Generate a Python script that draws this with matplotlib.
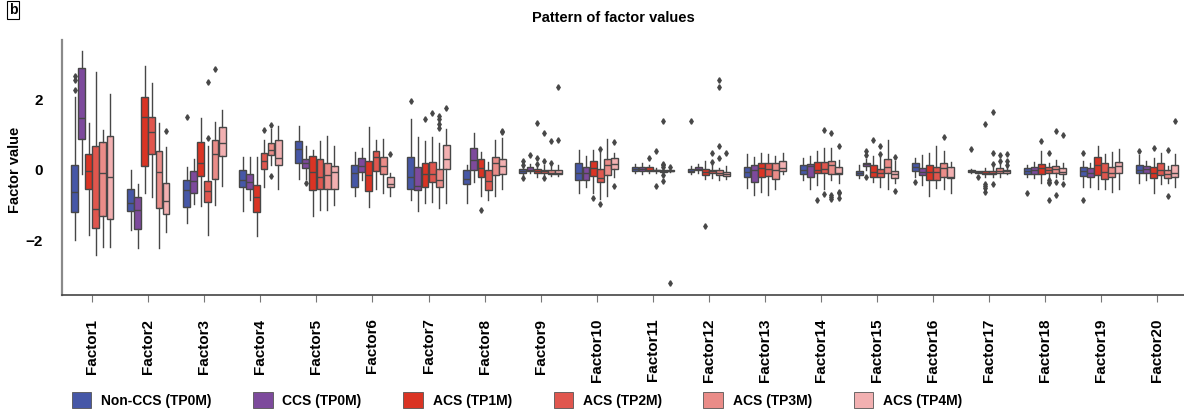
import numpy as np
import matplotlib.pyplot as plt
from matplotlib.patches import Patch

plt.rcParams['font.family'] = ['Liberation Sans', 'DejaVu Sans']
plt.rcParams['font.weight'] = 'bold'

factors = [f"Factor{i}" for i in range(1, 21)]
groups = ["Non-CCS (TP0M)", "CCS (TP0M)", "ACS (TP1M)", "ACS (TP2M)", "ACS (TP3M)", "ACS (TP4M)"]
colors = ["#4657A7", "#7D4A9C", "#DA3424", "#E0564E", "#EA8C88", "#F2B0B1"]

# one row per factor, columns follow `groups`
q1 = [
    [-1.20, 0.87, -0.54, -1.65, -1.30, -1.40],
    [-1.15, -1.67, 0.12, 0.45, -1.07, -1.25],
    [-1.04, -0.66, -0.17, -0.92, -0.26, 0.40],
    [-0.49, -0.55, -1.18, 0.03, 0.43, 0.13],
    [0.19, 0.06, -0.57, -0.54, -0.54, -0.54],
    [-0.49, -0.05, -0.60, -0.04, -0.12, -0.47],
    [-0.54, -0.58, -0.47, -0.34, -0.49, 0.02],
    [-0.40, -0.01, -0.19, -0.56, -0.14, -0.12],
    [-0.08, -0.04, -0.09, -0.08, -0.12, -0.12],
    [-0.28, -0.28, -0.16, -0.33, -0.15, 0.02],
    [-0.02, -0.02, -0.04, -0.04, -0.06, -0.04],
    [-0.06, 0.00, -0.15, -0.08, -0.14, -0.17],
    [-0.21, -0.33, -0.19, -0.17, -0.26, -0.04],
    [-0.11, -0.19, -0.09, -0.09, -0.12, -0.12],
    [-0.15, 0.10, -0.19, -0.21, -0.08, -0.23],
    [-0.04, -0.15, -0.27, -0.29, -0.19, -0.23],
    [-0.05, -0.08, -0.12, -0.12, -0.08, -0.08],
    [-0.12, -0.11, -0.11, -0.08, -0.08, -0.12],
    [-0.17, -0.19, -0.14, -0.25, -0.19, -0.09],
    [-0.08, -0.08, -0.23, -0.14, -0.23, -0.21],
]
med = [
    [-0.63, 1.46, -0.04, -1.11, -0.09, -0.21],
    [-0.94, -1.13, 1.51, 1.07, -0.06, -0.88],
    [-0.57, -0.30, 0.19, -0.59, 0.44, 0.77],
    [-0.28, -0.33, -0.77, 0.24, 0.57, 0.35],
    [0.59, 0.21, -0.06, -0.19, -0.14, -0.06],
    [-0.09, 0.11, -0.14, 0.36, 0.11, -0.40],
    [-0.19, -0.45, -0.12, -0.11, -0.28, 0.30],
    [-0.26, 0.28, 0.05, -0.31, 0.19, 0.11],
    [-0.04, 0.00, -0.04, -0.04, -0.08, -0.08],
    [-0.09, -0.08, 0.05, -0.24, 0.14, 0.16],
    [0.04, 0.04, 0.00, -0.01, -0.04, -0.02],
    [-0.02, 0.04, -0.07, -0.04, -0.08, -0.12],
    [-0.05, 0.00, 0.05, 0.03, 0.00, 0.06],
    [0.00, 0.11, 0.00, 0.02, 0.14, -0.08],
    [-0.09, 0.16, -0.06, -0.09, 0.08, -0.12],
    [0.08, -0.05, -0.05, -0.05, 0.06, -0.19],
    [-0.02, -0.06, -0.08, -0.08, -0.02, -0.04],
    [-0.02, 0.00, 0.05, 0.00, 0.02, -0.05],
    [-0.04, -0.08, 0.14, -0.05, -0.08, 0.11],
    [0.00, 0.02, -0.08, 0.00, -0.11, -0.08],
]
q3 = [
    [0.14, 2.90, 0.44, 0.68, 0.80, 0.96],
    [-0.55, -0.77, 2.06, 1.51, 0.55, -0.38],
    [-0.28, -0.02, 0.80, -0.31, 0.85, 1.21],
    [0.00, -0.11, -0.43, 0.47, 0.75, 0.85],
    [0.83, 0.30, 0.40, 0.30, 0.21, 0.10],
    [0.14, 0.34, 0.26, 0.55, 0.36, -0.19],
    [0.36, 0.08, 0.21, 0.23, 0.04, 0.72],
    [-0.01, 0.63, 0.30, 0.00, 0.36, 0.32],
    [0.02, 0.08, 0.02, -0.01, -0.01, -0.01],
    [0.19, 0.08, 0.25, 0.02, 0.32, 0.33],
    [0.09, 0.09, 0.08, 0.01, -0.01, -0.01],
    [0.03, 0.08, 0.02, 0.00, -0.01, -0.05],
    [0.09, 0.14, 0.19, 0.21, 0.19, 0.24],
    [0.14, 0.16, 0.23, 0.23, 0.26, 0.09],
    [-0.04, 0.21, 0.13, 0.02, 0.30, -0.02],
    [0.19, 0.05, 0.13, 0.08, 0.21, 0.08],
    [0.01, -0.04, -0.04, -0.04, 0.06, 0.01],
    [0.06, 0.08, 0.16, 0.08, 0.11, 0.05],
    [0.08, 0.05, 0.38, 0.19, 0.08, 0.23],
    [0.14, 0.11, 0.09, 0.19, 0.00, 0.14],
]
whis_lo = [
    [-1.98, -0.11, -1.85, -2.42, -2.19, -2.19],
    [-1.70, -2.22, -0.64, -0.77, -2.22, -1.75],
    [-1.49, -0.96, -1.01, -1.84, -0.99, -0.45],
    [-1.15, -0.85, -1.87, -0.47, 0.13, -0.55],
    [-0.25, -0.25, -1.29, -1.13, -1.13, -0.98],
    [-0.75, -0.28, -1.05, -0.54, -0.66, -0.75],
    [-0.85, -1.17, -0.94, -0.92, -1.08, -0.94],
    [-0.94, -0.33, -0.75, -0.86, -0.73, -0.54],
    [-0.14, -0.08, -0.19, -0.17, -0.17, -0.17],
    [-0.64, -0.47, -0.66, -0.83, -0.74, -0.19],
    [-0.08, -0.12, -0.09, -0.09, -0.11, -0.06],
    [-0.11, -0.08, -0.26, -0.23, -0.28, -0.26],
    [-0.50, -0.72, -0.61, -0.72, -0.54, -0.11],
    [-0.28, -0.53, -0.43, -0.53, -0.28, -0.36],
    [-0.23, 0.00, -0.33, -0.47, -0.53, -0.38],
    [-0.19, -0.42, -0.75, -0.50, -0.54, -0.64],
    [-0.08, -0.09, -0.19, -0.19, -0.19, -0.11],
    [-0.19, -0.23, -0.36, -0.24, -0.19, -0.26],
    [-0.47, -0.47, -0.53, -0.53, -0.62, -0.53],
    [-0.36, -0.28, -0.64, -0.39, -0.36, -0.49],
]
whis_hi = [
    [2.08, 3.38, 1.34, 2.77, 1.13, 2.14],
    [0.00, -0.40, 2.94, 2.47, 1.34, 0.66],
    [0.09, 0.32, 1.47, 0.68, 1.37, 1.70],
    [0.38, 0.38, 0.36, 0.85, 1.15, 1.25],
    [1.25, 0.68, 0.56, 0.83, 0.96, 0.67],
    [0.50, 0.61, 1.22, 0.85, 0.89, -0.08],
    [1.43, 0.92, 0.82, 0.92, 0.75, 1.15],
    [0.14, 1.06, 0.51, 0.23, 0.85, 0.91],
    [0.09, 0.16, 0.09, 0.14, 0.14, 0.14],
    [0.56, 0.39, 0.56, 0.50, 0.88, 0.49],
    [0.17, 0.21, 0.14, 0.06, 0.04, 0.02],
    [0.12, 0.16, 0.25, 0.14, 0.07, 0.12],
    [0.44, 0.38, 0.47, 0.44, 0.39, 0.47],
    [0.33, 0.39, 0.53, 0.62, 0.62, 0.28],
    [0.15, 0.30, 0.39, 0.38, 0.85, 0.25],
    [0.34, 0.43, 0.47, 0.68, 0.54, 0.23],
    [0.04, -0.02, 0.05, 0.09, 0.16, 0.08],
    [0.15, 0.23, 0.54, 0.21, 0.28, 0.21],
    [0.25, 0.19, 0.67, 0.44, 0.51, 0.59],
    [0.42, 0.26, 0.33, 0.47, 0.12, 0.44],
]
# outliers: (factor number, group index, value)
outliers = [
    (1, 0, 2.26), (1, 0, 2.55), (1, 0, 2.66),
    (2, 5, 1.10),
    (3, 0, 1.49), (3, 3, 0.90), (3, 3, 2.50), (3, 4, 2.85),
    (4, 3, 1.12), (4, 4, 1.26), (4, 4, -0.16),
    (5, 1, -0.38),
    (6, 5, 0.45),
    (7, 0, 1.96), (7, 2, 1.44), (7, 3, 1.60), (7, 4, 1.20), (7, 4, 1.31), (7, 4, 1.45), (7, 4, 1.54), (7, 5, 1.76),
    (8, 2, -1.13), (8, 5, 1.07), (8, 5, 1.11),
    (9, 0, 0.25), (9, 0, 0.14), (9, 0, -0.23), (9, 1, 0.41), (9, 2, 1.33), (9, 2, 0.35), (9, 2, 0.16),
    (9, 3, 1.05), (9, 3, 0.25), (9, 3, -0.23), (9, 4, 0.81), (9, 4, 0.21), (9, 5, 2.35), (9, 5, 0.85),
    (10, 2, -0.78), (10, 3, 0.59), (10, 3, -0.97), (10, 5, 0.78), (10, 5, -0.44),
    (11, 2, 0.34), (11, 3, 0.54), (11, 3, -0.45), (11, 4, 1.39), (11, 4, 0.17), (11, 4, 0.13),
    (11, 4, 0.09), (11, 4, -0.13), (11, 4, -0.30), (11, 5, 0.08), (11, 5, -3.19),
    (12, 0, 1.40), (12, 2, -1.58), (12, 3, 0.48), (12, 3, 0.22), (12, 4, 2.56), (12, 4, 2.34),
    (12, 4, 0.67), (12, 4, 0.35), (12, 5, 0.48),
    (14, 2, -0.85), (14, 3, 1.12), (14, 3, -0.68), (14, 4, 1.06), (14, 4, -0.72), (14, 4, -0.77),
    (14, 4, -0.83), (14, 5, 0.67), (14, 5, -0.63), (14, 5, -0.66), (14, 5, -0.80),
    (15, 1, 0.54), (15, 1, 0.41), (15, 1, -0.21), (15, 2, 0.85), (15, 3, 0.67), (15, 3, 0.45),
    (15, 5, 0.37), (15, 5, -0.60),
    (16, 0, -0.35), (16, 4, 0.92),
    (17, 0, 0.59), (17, 1, -0.20), (17, 2, 1.29), (17, 2, -0.40), (17, 2, -0.45), (17, 2, -0.50),
    (17, 2, -0.63), (17, 3, 1.64), (17, 3, 0.48), (17, 3, 0.17), (17, 3, -0.40), (17, 4, 0.41),
    (17, 4, 0.25), (17, 5, 0.44), (17, 5, 0.24), (17, 5, 0.14),
    (18, 0, -0.64), (18, 2, 0.81), (18, 3, 0.48), (18, 3, -0.28), (18, 3, -0.33), (18, 3, -0.38),
    (18, 3, -0.86), (18, 4, 1.10), (18, 4, -0.34), (18, 4, -0.70), (18, 5, 0.98), (18, 5, -0.40),
    (19, 0, 0.49), (19, 0, -0.85),
    (20, 0, 0.54), (20, 2, 0.61), (20, 4, 0.56), (20, 4, -0.75), (20, 5, 1.40),
]

W, H = 1184, 412
fig = plt.figure(figsize=(W / 100, H / 100), dpi=100)
ax = fig.add_axes([62 / W, 1 - 295 / H, 1 - 62 / W, 255 / H])

line_col = "#474747"
total_w = 0.76
bw = total_w / len(groups)
x = np.arange(len(factors))

for g, col in enumerate(colors):
    stats = []
    for f in range(len(factors)):
        stats.append(dict(
            q1=q1[f][g], med=med[f][g], q3=q3[f][g],
            whislo=whis_lo[f][g], whishi=whis_hi[f][g],
            fliers=[v for (ff, gg, v) in outliers if ff == f + 1 and gg == g],
        ))
    pos = x - total_w / 2 + bw * (g + 0.5)
    ax.bxp(stats, positions=pos, widths=bw * 0.97, patch_artist=True,
           showcaps=False, manage_ticks=False,
           boxprops=dict(facecolor=col, edgecolor=line_col, linewidth=1),
           medianprops=dict(color=line_col, linewidth=1),
           whiskerprops=dict(color=line_col, linewidth=1),
           flierprops=dict(marker='d', markersize=2.8, markerfacecolor=line_col,
                           markeredgecolor=line_col, linestyle='none'))

ax.set_xlim(-0.54, 19.48)
ax.set_ylim(-3.54, 3.68)
ax.set_xticks(x)
ax.set_xticklabels(factors, rotation=90, fontsize=11, fontweight='bold')
ax.set_yticks([-2, 0, 2])
ax.set_yticklabels(['\u22122', '0', '2'], fontsize=11, fontweight='bold')
ax.tick_params(axis='x', length=5, color='#777777', pad=12)
ax.tick_params(axis='y', length=0, pad=14)
for s in ['top', 'right']:
    ax.spines[s].set_visible(False)
ax.spines['left'].set_color('#8a8a8a')
ax.spines['left'].set_linewidth(1.6)
ax.spines['bottom'].set_color('#444444')
ax.spines['bottom'].set_linewidth(1.2)

fig.text(15 / W, 1 - 170 / H, "Factor value", rotation=90, ha='center', va='center',
         fontsize=10.5, fontweight='bold')
fig.text(613 / W, 1 - 18 / H, "Pattern of factor values", ha='center', va='center',
         fontsize=10.5, fontweight='bold')
fig.text(13 / W, 1 - 10 / H, "b", ha='center', va='center', fontsize=10, fontweight='bold',
         bbox=dict(boxstyle='square,pad=0.15', facecolor='white', edgecolor='black', linewidth=0.8))

handles = [Patch(facecolor=c, edgecolor='#555555', linewidth=0.6) for c in colors]
fig.legend(handles, groups, ncol=6, loc='center left', bbox_to_anchor=(72 / W, 1 - 400 / H),
           frameon=False, fontsize=10, handlelength=1.4, handleheight=1.4,
           handletextpad=0.7, columnspacing=3.0, borderpad=0, borderaxespad=0)

fig.savefig("out.png", dpi=100)
